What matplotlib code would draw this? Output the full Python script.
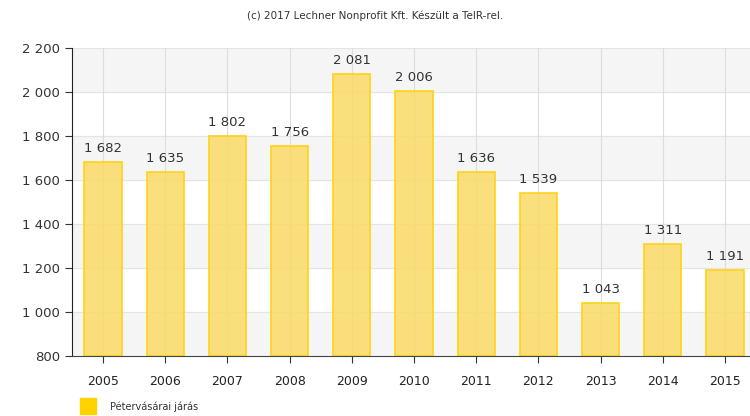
import numpy as np
import matplotlib.pyplot as plt
from matplotlib.patches import Rectangle

years = ['2005', '2006', '2007', '2008', '2009', '2010', '2011', '2012', '2013', '2014', '2015']
values = [1682, 1635, 1802, 1756, 2081, 2006, 1636, 1539, 1043, 1311, 1191]
series_name = 'Pétervásárai járás'
y_ticks = [800, 1000, 1200, 1400, 1600, 1800, 2000, 2200]


def fmt(v):
    return f'{v:,}'.replace(',', ' ')


fig = plt.figure(figsize=(7.5, 4.16), dpi=100)
ax = fig.add_axes([72 / 750, 60 / 416, 684 / 750, 308 / 416])

x = np.arange(len(years))

# alternating bands
for i in range(len(y_ticks) - 1):
    if (len(y_ticks) - 2 - i) % 2 == 0:
        ax.axhspan(y_ticks[i], y_ticks[i + 1], color='#f5f5f5', zorder=0)
for t in y_ticks[1:]:
    ax.axhline(t, color='#e4e4e4', lw=0.8, zorder=0.5)
for xi in x:
    ax.axvline(xi, color='#dddddd', lw=0.8, zorder=0.5)

ax.bar(x, np.array(values) - 800, bottom=800, width=0.6, color=(0.98, 0.86, 0.4, 0.85),
       edgecolor='#ffd21a', linewidth=1.2, zorder=2)
for xi, v in zip(x, values):
    ax.annotate(fmt(v), (xi, v), xytext=(0, 5), textcoords='offset points',
                ha='center', va='bottom', fontsize=9.5, color='#333333', zorder=3)

ax.set_xlim(-0.5, len(years) - 0.5)
ax.set_ylim(800, 2200)
ax.set_yticks(y_ticks)
ax.set_yticklabels([fmt(t) for t in y_ticks], fontsize=9.5, color='#333333')
ax.set_xticks(x)
ax.set_xticklabels(years, fontsize=9, color='#222222')
ax.tick_params(axis='x', length=5, pad=9, color='#333333')
ax.tick_params(axis='y', length=5, color='#333333')
for s in ['top', 'right']:
    ax.spines[s].set_visible(False)
ax.spines['left'].set_color('#222222')
ax.spines['bottom'].set_color('#444444')

fig.text(0.5, 0.962, '(c) 2017 Lechner Nonprofit Kft. Készült a TeIR-rel.',
         ha='center', va='center', fontsize=7.5, color='#333333')

fig.patches.append(Rectangle((80 / 750, 2 / 416), 16 / 750, 16 / 416,
                             transform=fig.transFigure, color='#ffd200'))
fig.text(110 / 750, 9 / 416, series_name, ha='left', va='center',
         fontsize=7, color='#333333')

fig.savefig('out.png', dpi=100)
